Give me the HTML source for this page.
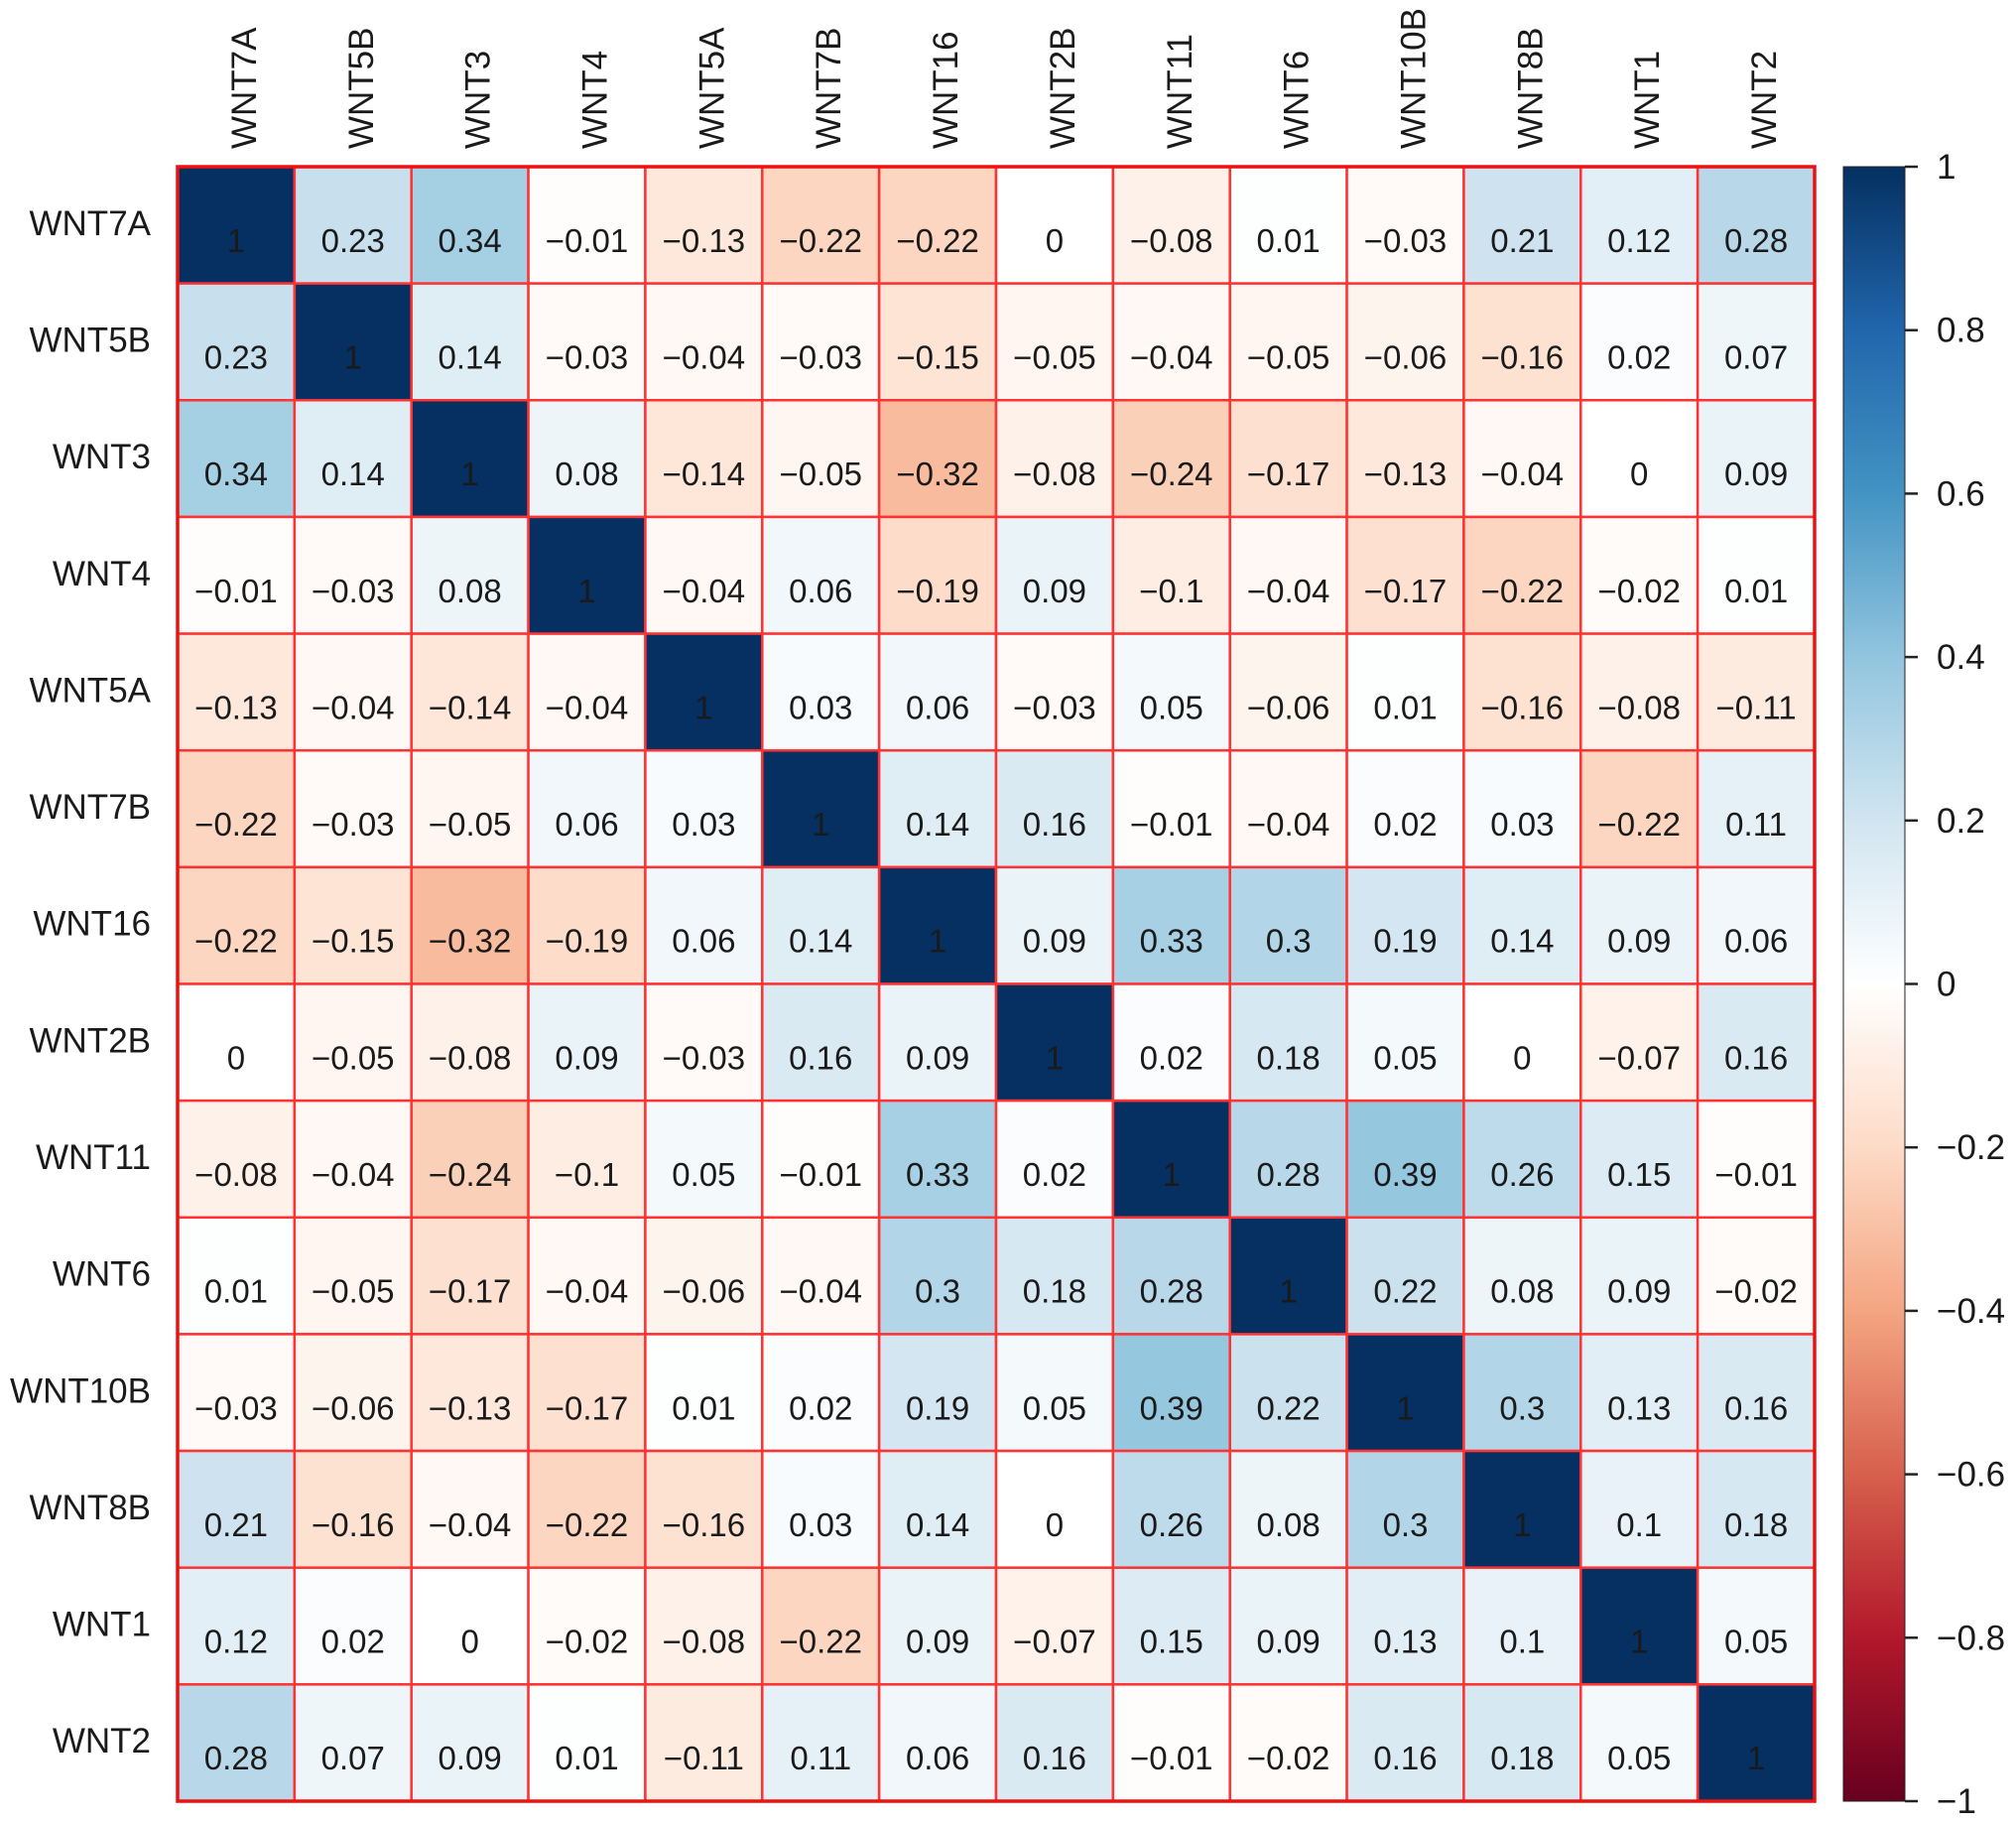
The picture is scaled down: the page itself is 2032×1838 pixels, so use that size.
<!DOCTYPE html>
<html><head><meta charset="utf-8"><style>
body{margin:0;background:#fff;}
svg{display:block;font-family:"Liberation Sans",Arial,sans-serif;}
</style></head><body>
<svg id="chart" width="2032" height="1838" viewBox="0 0 2032 1838">
<defs>
<linearGradient id="cbgrad" x1="0" y1="1" x2="0" y2="0">
<stop offset="0" stop-color="#67001F"/><stop offset="0.1" stop-color="#B2182B"/><stop offset="0.2" stop-color="#D6604D"/><stop offset="0.3" stop-color="#F4A582"/><stop offset="0.4" stop-color="#FDDBC7"/><stop offset="0.5" stop-color="#FFFFFF"/><stop offset="0.6" stop-color="#D1E5F0"/><stop offset="0.7" stop-color="#92C5DE"/><stop offset="0.8" stop-color="#4393C3"/><stop offset="0.9" stop-color="#2166AC"/><stop offset="1" stop-color="#053061"/>
</linearGradient>
</defs>
<g id="cells"></g>
<g id="labels"></g>
<g id="cbar"></g>
</svg>
<script>
const genes = ["WNT7A","WNT5B","WNT3","WNT4","WNT5A","WNT7B","WNT16","WNT2B","WNT11","WNT6","WNT10B","WNT8B","WNT1","WNT2"];
const r0 = [1,0.23,0.34,-0.01,-0.13,-0.22,-0.22,0,-0.08,0.01,-0.03,0.21,0.12,0.28];
const r1 = [0.23,1,0.14,-0.03,-0.04,-0.03,-0.15,-0.05,-0.04,-0.05,-0.06,-0.16,0.02,0.07];
const r2 = [0.34,0.14,1,0.08,-0.14,-0.05,-0.32,-0.08,-0.24,-0.17,-0.13,-0.04,0,0.09];
const r3 = [-0.01,-0.03,0.08,1,-0.04,0.06,-0.19,0.09,-0.1,-0.04,-0.17,-0.22,-0.02,0.01];
const r4 = [-0.13,-0.04,-0.14,-0.04,1,0.03,0.06,-0.03,0.05,-0.06,0.01,-0.16,-0.08,-0.11];
const r5 = [-0.22,-0.03,-0.05,0.06,0.03,1,0.14,0.16,-0.01,-0.04,0.02,0.03,-0.22,0.11];
const r6 = [-0.22,-0.15,-0.32,-0.19,0.06,0.14,1,0.09,0.33,0.3,0.19,0.14,0.09,0.06];
const r7 = [0,-0.05,-0.08,0.09,-0.03,0.16,0.09,1,0.02,0.18,0.05,0,-0.07,0.16];
const r8 = [-0.08,-0.04,-0.24,-0.1,0.05,-0.01,0.33,0.02,1,0.28,0.39,0.26,0.15,-0.01];
const r9 = [0.01,-0.05,-0.17,-0.04,-0.06,-0.04,0.3,0.18,0.28,1,0.22,0.08,0.09,-0.02];
const r10 = [-0.03,-0.06,-0.13,-0.17,0.01,0.02,0.19,0.05,0.39,0.22,1,0.3,0.13,0.16];
const r11 = [0.21,-0.16,-0.04,-0.22,-0.16,0.03,0.14,0,0.26,0.08,0.3,1,0.1,0.18];
const r12 = [0.12,0.02,0,-0.02,-0.08,-0.22,0.09,-0.07,0.15,0.09,0.13,0.1,1,0.05];
const r13 = [0.28,0.07,0.09,0.01,-0.11,0.11,0.06,0.16,-0.01,-0.02,0.16,0.18,0.05,1];
const matrix = [r0,r1,r2,r3,r4,r5,r6,r7,r8,r9,r10,r11,r12,r13];
const cbTicks = [1,0.8,0.6,0.4,0.2,0,-0.2,-0.4,-0.6,-0.8,-1];

const NS="http://www.w3.org/2000/svg";
const GX0=179, GX1=1829, GY0=168, GY1=1815;
const n=genes.length, cw=(GX1-GX0)/n, ch=(GY1-GY0)/n;
const xCell=i=>GX0+i*cw, yCell=j=>GY0+j*ch;
const CB_X=1858, CB_W=62;
const yCb=v=>GY0+(1-v)/2*(GY1-GY0);
const pal=["#67001F","#B2182B","#D6604D","#F4A582","#FDDBC7","#FFFFFF","#D1E5F0","#92C5DE","#4393C3","#2166AC","#053061"];
function hex(h){return [1,3,5].map(k=>parseInt(h.substr(k,2),16));}
function color(v){
  let t=(v+1)/2*(pal.length-1); let i=Math.min(Math.floor(t),pal.length-2); let f=t-i;
  const a=hex(pal[i]), b=hex(pal[i+1]);
  return "rgb("+a.map((x,k)=>Math.round(x+(b[k]-x)*f)).join(",")+")";
}
function fmt(v){return (v<0?"\u2212":"")+String(Math.abs(v));}
function mk(tag,attrs,parent){const e=document.createElementNS(NS,tag);for(const k in attrs)e.setAttribute(k,attrs[k]);parent.appendChild(e);return e;}

const cells=document.getElementById("cells");
matrix.forEach((row,j)=>{row.forEach((v,i)=>{
  const r=mk("rect",{x:xCell(i),y:yCell(j),width:cw,height:ch,fill:color(v),stroke:"#ff3333","stroke-width":2.5},cells);
  
  
  const t=mk("text",{x:xCell(i)+cw/2,y:yCell(j)+ch/2+27,"text-anchor":"middle","font-size":33,fill:"#1a1a1a"},cells);
  t.textContent=fmt(v);
  
  
});});
const border=mk("rect",{x:GX0,y:GY0,width:GX1-GX0,height:GY1-GY0,fill:"none",stroke:"#ee1111","stroke-width":3.5},cells);



const labels=document.getElementById("labels");
genes.forEach((g,i)=>{
  const t=mk("text",{x:152,y:yCell(i)+ch/2+10,"text-anchor":"end","font-size":35,fill:"#1a1a1a"},labels);
  t.textContent=g;
  
  
  const cx=xCell(i)+cw/2+20;
  const c=mk("text",{x:cx,y:150,"text-anchor":"start","font-size":35,fill:"#1a1a1a",transform:"rotate(-90 "+cx+" 150)"},labels);
  c.textContent=g;
  
  
});

const cb=document.getElementById("cbar");
const bar=mk("rect",{x:CB_X,y:GY0,width:CB_W,height:GY1-GY0,fill:"url(#cbgrad)",stroke:"#222","stroke-width":1},cb);


cbTicks.forEach(v=>{
  const y=yCb(v);
  const l=mk("line",{x1:CB_X+CB_W,x2:CB_X+CB_W+13,y1:y,y2:y,stroke:"#222","stroke-width":2.5},cb);
  
  
  const t=mk("text",{x:1952,y:y+12,"font-size":35,fill:"#1a1a1a"},cb);
  t.textContent=fmt(v);
  
  
});
</script>
</body></html>
